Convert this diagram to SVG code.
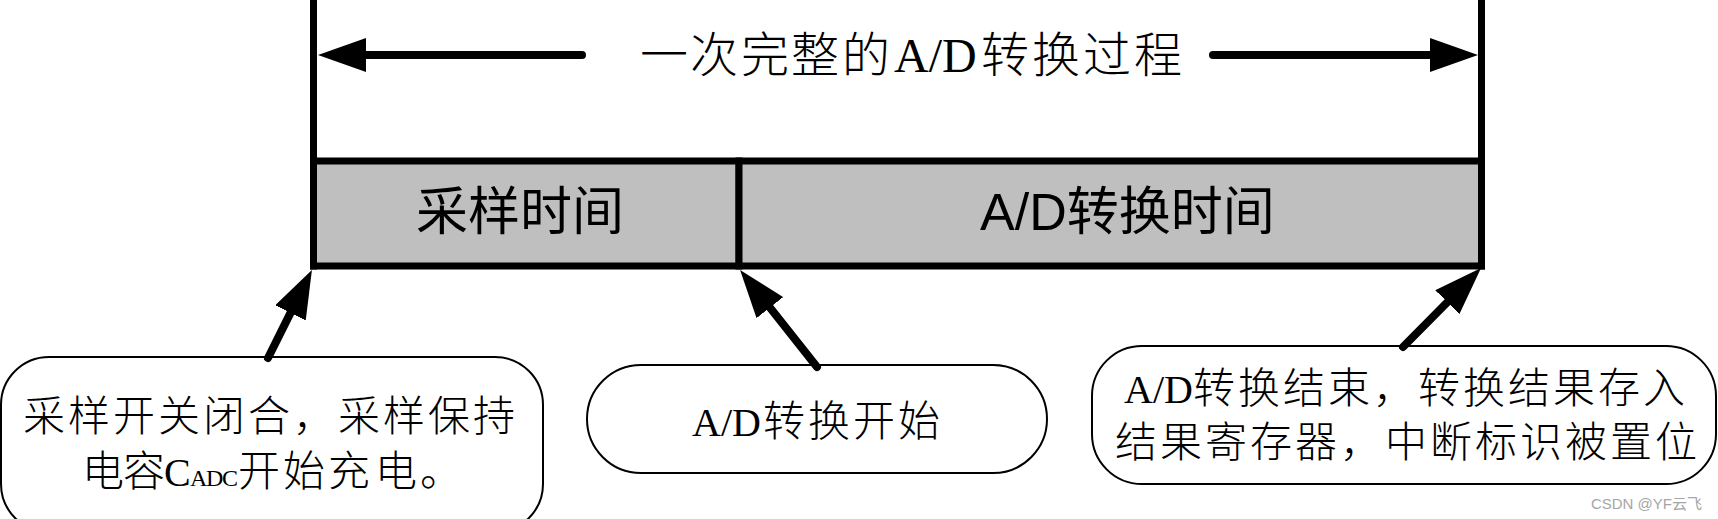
<svg xmlns="http://www.w3.org/2000/svg" width="1718" height="519" viewBox="0 0 1718 519">
  <style>
    .serif { font-family: "Liberation Serif", "Noto Sans CJK SC", serif; fill: #000; }
    .sans { font-family: "Liberation Sans", "Noto Sans CJK SC", sans-serif; fill: #000; }
    .cjk { font-weight: 300; }
    .bar { fill: #bfbfbf; stroke: #000; stroke-width: 7; }
    .edge { stroke: #000; stroke-width: 7; fill: none; }
    .box { fill: #fff; stroke: #000; stroke-width: 2; }
    .conn { stroke: #000; stroke-width: 8; stroke-linecap: round; fill: none; marker-end: url(#ah); }
    .wm { font-family: "Liberation Sans", "Noto Sans CJK SC", sans-serif; font-size: 15px; fill: #a6a6a6; }
  </style>
  <defs>
    <marker id="ah" markerUnits="userSpaceOnUse" markerWidth="48" markerHeight="34" viewBox="0 0 48 34" refX="0" refY="17" orient="auto">
      <path d="M0,0 L48,17 L0,34 Z" fill="#000"/>
    </marker>
  </defs>

  <g id="sampling-time">
    <rect class="bar" x="313.5" y="161" width="425.5" height="105"/>
    <text class="sans" font-size="52" x="416" y="230">采样时间</text>
  </g>
  <g id="conversion-time">
    <rect class="bar" x="739" y="161" width="742.5" height="105"/>
    <text class="sans" font-size="52" x="980" y="230">A/D转换时间</text>
  </g>

  <g id="boundaries">
    <line class="edge" x1="313.5" y1="-5" x2="313.5" y2="269.5"/>
    <line class="edge" x1="1481.5" y1="-5" x2="1481.5" y2="269.5"/>
  </g>

  <g id="title">
    <text class="serif" font-size="48" y="72"><tspan class="cjk" x="640 690 741 791 842">一次完整的</tspan><tspan x="894">A/D</tspan><tspan class="cjk" x="981 1032 1083 1134">转换过程</tspan></text>
  </g>

  <g id="note-sampling">
    <rect class="box" x="1" y="357" width="542" height="175" rx="48"/>
    <text class="serif cjk" font-size="42" y="431" x="23 68 113 158 203 248 293 338 383 428 473">采样开关闭合，采样保持</text>
    <text class="serif" font-size="42" y="486"><tspan class="cjk" x="82 123">电容</tspan><tspan x="164" font-size="40">C</tspan><tspan x="190 206 222" font-size="24">ADC</tspan><tspan class="cjk" x="238 283 328 375 420">开始充电。</tspan></text>
  </g>

  <g id="note-start">
    <rect class="box" x="587" y="365" width="460" height="108" rx="54"/>
    <text class="serif" font-size="40" y="436"><tspan x="692">A/D</tspan><tspan class="cjk" font-size="42" x="763 808 853 898">转换开始</tspan></text>
  </g>

  <g id="note-end">
    <rect class="box" x="1092" y="346" width="624" height="138" rx="50"/>
    <text class="serif" font-size="40" y="403"><tspan x="1124">A/D</tspan><tspan class="cjk" font-size="42" x="1193 1238 1283 1328 1373 1418 1463 1508 1553 1598 1643">转换结束，转换结果存入</tspan></text>
    <text class="serif cjk" font-size="42" y="457" x="1115 1160 1205 1250 1295 1340 1385 1430 1475 1520 1565 1610 1655">结果寄存器，中断标识被置位</text>
  </g>

  <g id="connectors">
    <path class="conn" d="M582,55 L366,55"/>
    <path class="conn" d="M1213,55 L1430,55"/>
    <path class="conn" d="M268,358 L290.5,312.9"/>
    <path class="conn" d="M817,367 L769.9,307.6"/>
    <path class="conn" d="M1403,347 L1447.3,302.2"/>
  </g>

  <text class="wm" x="1702" y="509" text-anchor="end">CSDN @YF云飞</text>
</svg>
